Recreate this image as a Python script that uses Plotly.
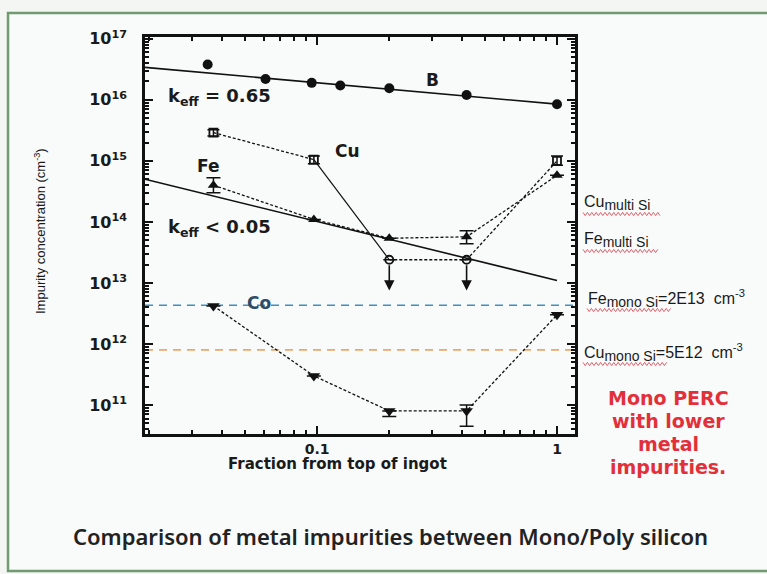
import math
import plotly.graph_objects as go

# ---- data: impurity concentration along the ingot ----
frac = [0.037, 0.097, 0.2, 0.42, 1.0]

b_frac = [0.035, 0.061, 0.095, 0.125, 0.2, 0.42, 1.0]
b_conc = [3.8e16, 2.2e16, 1.9e16, 1.72e16, 1.55e16, 1.2e16, 8.5e15]

cu_conc = [2.9e15, 1.05e15, 2.4e13, 2.4e13, 1.0e15]
cu_err_up = [0.35e15, 0.15e15, 0, 0, 0.2e15]
cu_err_dn = [0.35e15, 0.15e15, 0, 0, 0.15e15]
cu_upper_limit = [False, False, True, True, False]
cu_segment_dash = ["3px,2px", "solid", "3px,2px", "3px,2px"]

fe_conc = [4.0e14, 1.1e14, 5.4e13, 5.7e13, 5.8e14]
fe_err_up = [1.3e14, 0, 0, 1.5e13, 0]
fe_err_dn = [1.0e14, 0, 0, 1.3e13, 0]

co_conc = [4.2e12, 3.0e11, 8.0e10, 8.0e10, 3.0e12]
co_err_up = [0, 0, 0, 2.0e10, 0]
co_err_dn = [0, 0, 1.5e10, 3.5e10, 0]

# segregation fit lines (end points)
fit_b_x = [0.0192, 1.0]
fit_b_y = [3.4e16, 8.5e15]
fit_fe_x = [0.0192, 1.0]
fit_fe_y = [5.0e14, 1.1e13]

# mono-Si reference levels (dashed guides)
mono_fe_level = 4.3e12
mono_cu_level = 8.0e11
arrow_tip = 7.5e12

y_tick_exp = [11, 12, 13, 14, 15, 16, 17]
x_tick_vals = [0.1, 1]
x_tick_text = ["0.1", "1"]

# ---- layout geometry (pixels of the 767x574 page) ----
W, H = 767, 574
L, R, T, B = 145, 575, 37, 434
X_RANGE = [-1.717, 0.075]
Y_RANGE = [10.525, 17.03]


def px(x):
    return (x - L) / (R - L)


def py(y):
    return (B - y) / (B - T)


fig = go.Figure()

dot = "3px,2px"
black = "#111111"

# fit lines
fig.add_trace(go.Scatter(x=fit_b_x, y=fit_b_y, mode="lines",
                         line=dict(color=black, width=1.6), hoverinfo="skip"))
fig.add_trace(go.Scatter(x=fit_fe_x, y=fit_fe_y, mode="lines",
                         line=dict(color=black, width=1.6), hoverinfo="skip"))

# reference dashed lines across the plot
for level, col in [(mono_fe_level, "#3f8fc4"), (mono_cu_level, "#f0a66a")]:
    fig.add_trace(go.Scatter(x=[10 ** X_RANGE[0], 10 ** X_RANGE[1]], y=[level, level], mode="lines",
                             line=dict(color=col, width=1.6, dash="8px,6px"), hoverinfo="skip"))

# boron
fig.add_trace(go.Scatter(x=b_frac, y=b_conc, mode="markers",
                         marker=dict(symbol="circle", size=10, color=black)))

# copper: connectors segment by segment, then the points
for i, dash in enumerate(cu_segment_dash):
    fig.add_trace(go.Scatter(x=frac[i:i + 2], y=cu_conc[i:i + 2], mode="lines",
                             line=dict(color=black, width=1.2 if dash == "solid" else 1.3, dash=dash),
                             hoverinfo="skip"))
fig.add_trace(go.Scatter(
    x=frac, y=cu_conc, mode="markers",
    marker=dict(symbol=["circle-open" if u else "square-open" for u in cu_upper_limit],
                size=8, color=black, line=dict(width=1.8)),
    error_y=dict(type="data", array=cu_err_up, arrayminus=cu_err_dn,
                 color=black, thickness=1.5, width=6)))

# iron
fig.add_trace(go.Scatter(
    x=frac, y=fe_conc, mode="lines+markers",
    line=dict(color=black, width=1.3, dash=dot),
    marker=dict(symbol="triangle-up", size=10, color=black),
    error_y=dict(type="data", array=fe_err_up, arrayminus=fe_err_dn,
                 color=black, thickness=1.5, width=7)))

# cobalt
fig.add_trace(go.Scatter(
    x=frac, y=co_conc, mode="lines+markers",
    line=dict(color=black, width=1.3, dash=dot),
    marker=dict(symbol="triangle-down", size=11, color=black),
    error_y=dict(type="data", array=co_err_up, arrayminus=co_err_dn,
                 color=black, thickness=1.5, width=7)))

annotations = []

# upper-limit arrows for copper
for xv, yv, lim in zip(frac, cu_conc, cu_upper_limit):
    if lim:
        annotations.append(dict(
            x=math.log10(xv), y=math.log10(arrow_tip), ax=math.log10(xv), ay=math.log10(yv),
            xref="x", yref="y", axref="x", ayref="y", text="", showarrow=True,
            arrowhead=2, arrowsize=1.3, arrowwidth=1.6, arrowcolor=black, startstandoff=4))

SANS = "DejaVu Sans, Verdana, sans-serif"
lab_font = dict(family=SANS, size=17, color="#1a1a1a", weight="bold")


def label(text, xp, yp, xanchor="center", font=None):
    annotations.append(dict(text=text, x=px(xp), y=py(yp), xref="paper", yref="paper",
                            xanchor=xanchor, yanchor="middle", showarrow=False,
                            font=font or lab_font))


label("B", 432, 80)
label("k<sub>eff</sub> = 0.65", 166, 97, "left", dict(lab_font, size=18))
label("Cu", 347, 151)
label("Fe", 208, 166)
label("k<sub>eff</sub> < 0.05", 166, 228, "left", dict(lab_font, size=18))
label("Co", 259, 303, font=dict(family=SANS, size=17, color="#2d4c6a", weight="bold"))

# axis titles
label("Fraction from top of ingot", 337, 464,
      font=dict(family=SANS, size=15, color="#1a1a1a", weight="bold"))
annotations.append(dict(text="Impurity concentration (cm<sup>-3</sup>)", x=px(40), y=py(231),
                        xref="paper", yref="paper", textangle=-90, showarrow=False,
                        xanchor="center", yanchor="middle",
                        font=dict(family="Liberation Sans Narrow, Liberation Sans, Arial, sans-serif",
                                  size=13, color="#1a1a1a")))

# side notes
side_font = dict(family="Liberation Sans, Arial, sans-serif", size=16, color="#1a1a1a")


def sub(t):
    return f"<sub><span style='font-size:14px'>{t}</span></sub>"


label("Cu" + sub("multi Si"), 582, 203, "left", side_font)
label("Fe" + sub("multi Si"), 582, 240, "left", side_font)
label("Fe" + sub("mono Si") + "=2E13  cm<sup>-3</sup>", 586, 298, "left", side_font)
label("Cu" + sub("mono Si") + "=5E12  cm<sup>-3</sup>", 582, 352, "left", side_font)

red_font = dict(family=SANS, size=19, color="#e2303a", weight="bold")
for line_text, yy in [("Mono PERC", 398), ("with lower", 421), ("metal", 444), ("impurities.", 467)]:
    label(line_text, 668, yy, "center", red_font)

label("Comparison of metal impurities between Mono/Poly silicon", 390, 536, "center",
      dict(family="Noto Sans, Open Sans, sans-serif", size=22, color="#222222", weight=600))

shapes = []


def squiggle(x0, x1, y, amp=1.6, step=2.2):
    pts = []
    x = x0
    i = 0
    while x <= x1:
        yy = y + (amp if i % 2 else -amp)
        pts.append((px(x), py(yy)))
        x += step
        i += 1
    path = "M " + " L ".join(f"{a:.5f},{b:.5f}" for a, b in pts)
    return dict(type="path", path=path, xref="paper", yref="paper",
                line=dict(color="#e0606a", width=1))


shapes.append(squiggle(583, 662, 214))
shapes.append(squiggle(583, 658, 251))
shapes.append(squiggle(587, 672, 310))
shapes.append(squiggle(583, 668, 364))

# slide panel: light fill, then a frame open on the right (it runs past the page edge)
shapes.append(dict(type="rect", xref="paper", yref="paper", layer="below",
                   x0=px(8), x1=px(800), y0=py(571), y1=py(13),
                   line=dict(width=0), fillcolor="#f9fafa"))
fx0, fx1, fy0, fy1 = px(8), px(800), py(571), py(13)
shapes.append(dict(type="path", xref="paper", yref="paper",
                   path=f"M {fx1},{fy1} L {fx0},{fy1} L {fx0},{fy0} L {fx1},{fy0}",
                   line=dict(color="#6f9a72", width=2.5)))

minor_y = [m * 10 ** e for e in range(10, 17) for m in range(2, 10)]
minor_x = [m * 10 ** e for e in range(-2, 1) for m in range(2, 10)]

axis_common = dict(showline=True, linecolor=black, linewidth=2.5, mirror="ticks",
                   ticks="inside", ticklen=8, tickwidth=2, tickcolor=black,
                   showgrid=False, zeroline=False)

fig.update_layout(
    width=W, height=H,
    margin=dict(l=L, r=W - R, t=T, b=H - B),
    paper_bgcolor="#f3f6f3",
    plot_bgcolor="#fbfbfb",
    showlegend=False,
    xaxis=dict(type="log", range=X_RANGE, tickvals=x_tick_vals, ticktext=x_tick_text,
               tickfont=dict(family=SANS, size=14, color="#1a1a1a", weight="bold"),
               minor=dict(tickvals=minor_x, ticks="inside", ticklen=4, tickwidth=1.5,
                          tickcolor=black, showgrid=False),
               **axis_common),
    yaxis=dict(type="log", range=Y_RANGE,
               tickvals=[10 ** e for e in y_tick_exp],
               ticktext=[f"10<sup>{e}</sup>" for e in y_tick_exp],
               tickfont=dict(family=SANS, size=16, color="#1a1a1a", weight="bold"),
               ticklabelstandoff=12,
               minor=dict(tickvals=minor_y, ticks="inside", ticklen=4, tickwidth=1.5,
                          tickcolor=black, showgrid=False),
               **axis_common),
    annotations=annotations,
    shapes=shapes,
)

fig.write_html("out.html")
